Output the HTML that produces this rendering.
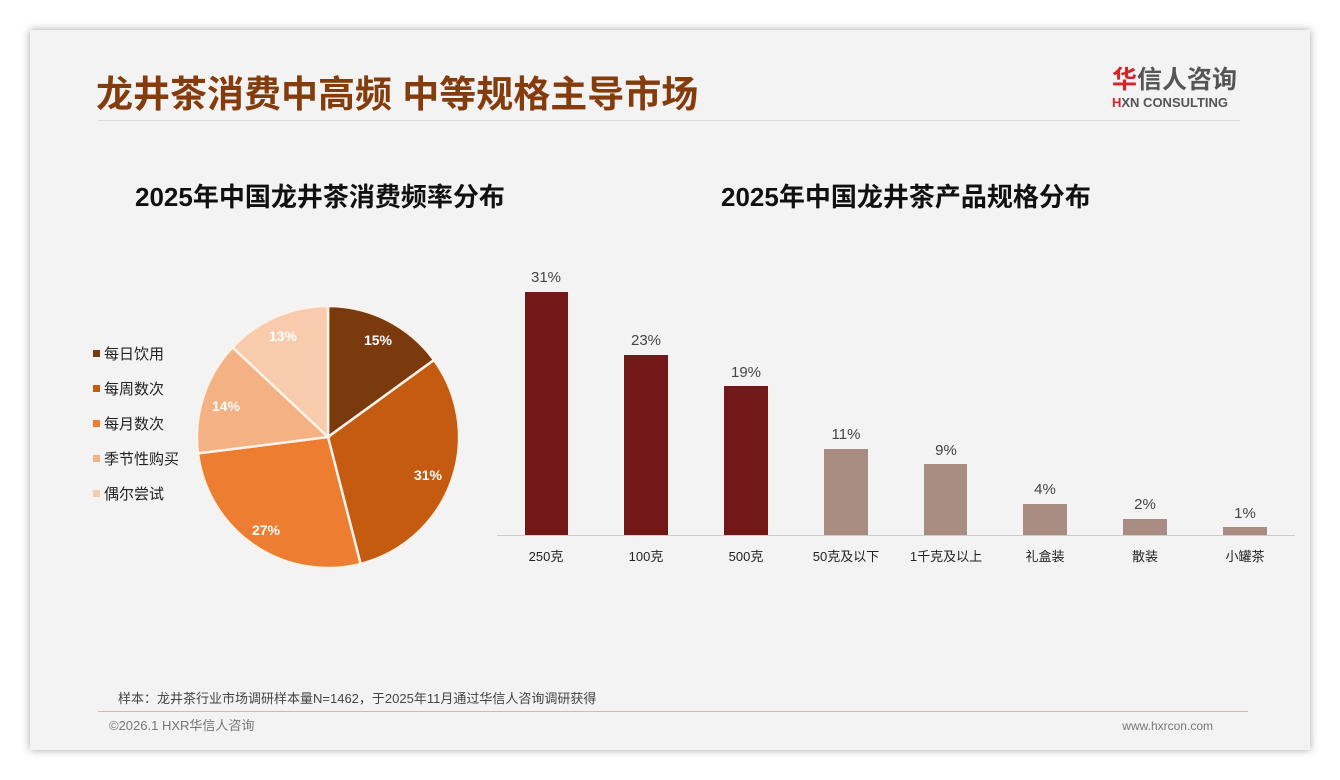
<!DOCTYPE html>
<html><head><meta charset="utf-8"><style>
body{margin:0;width:1340px;height:780px;background:#fff;overflow:hidden;font-family:"Liberation Sans","Noto Sans CJK SC",sans-serif;}
.card{position:absolute;left:30px;top:30px;width:1280px;height:720px;background:#f3f3f3;box-shadow:0 0 8px rgba(0,0,0,.35);}
</style></head><body>
<div class="card"></div>
<svg width="1340" height="780" style="position:absolute;left:0;top:0" font-family="Liberation Sans, Noto Sans CJK SC, sans-serif">
<text x="96" y="107" font-size="37" font-weight="bold" fill="#843c0c">龙井茶消费中高频 中等规格主导市场</text>
<text x="1112" y="88" font-size="25" font-weight="bold" fill="#555"><tspan fill="#d8222a">华</tspan>信人咨询</text>
<text x="1112" y="107" font-size="13" font-weight="bold" fill="#555"><tspan fill="#d8222a">H</tspan>XN CONSULTING</text>
<line x1="98" y1="120.5" x2="1240" y2="120.5" stroke="#ddd" stroke-width="1"/>
<text x="135" y="206" font-size="26" font-weight="bold" fill="#111">2025年中国龙井茶消费频率分布</text>
<text x="721" y="206" font-size="26" font-weight="bold" fill="#111">2025年中国龙井茶产品规格分布</text>
<g stroke="#fbf3ea" stroke-width="2.5">
<path d="M328,437 L328,306 A131,131 0 0 1 434,360 Z" fill="#7b3a0e"/>
<path d="M328,437 L434,360 A131,131 0 0 1 360.6,563.9 Z" fill="#c55a11"/>
<path d="M328,437 L360.6,563.9 A131,131 0 0 1 198,453.4 Z" fill="#ed7d31"/>
<path d="M328,437 L198,453.4 A131,131 0 0 1 232.5,347.3 Z" fill="#f4b183"/>
<path d="M328,437 L232.5,347.3 A131,131 0 0 1 328,306 Z" fill="#f8cbad"/>
</g>
<g font-size="14" font-weight="bold" fill="#fff" text-anchor="middle">
<text x="378" y="345">15%</text><text x="428" y="480">31%</text><text x="266" y="535">27%</text><text x="226" y="411">14%</text><text x="283" y="341">13%</text>
</g>
<g font-size="15" fill="#222">
<rect x="93" y="350" width="7" height="7" fill="#7b3a0e"/><text x="104" y="359">每日饮用</text>
<rect x="93" y="385" width="7" height="7" fill="#c55a11"/><text x="104" y="394">每周数次</text>
<rect x="93" y="420" width="7" height="7" fill="#ed7d31"/><text x="104" y="429">每月数次</text>
<rect x="93" y="455" width="7" height="7" fill="#f4b183"/><text x="104" y="464">季节性购买</text>
<rect x="93" y="490" width="7" height="7" fill="#f8cbad"/><text x="104" y="499">偶尔尝试</text>
</g>
<g>
<rect x="525" y="292" width="43" height="243" fill="#731818"/>
<rect x="624" y="355" width="44" height="180" fill="#731818"/>
<rect x="724" y="386" width="44" height="149" fill="#731818"/>
<rect x="824" y="449" width="44" height="86" fill="#a88c82"/>
<rect x="924" y="464" width="43" height="71" fill="#a88c82"/>
<rect x="1023" y="504" width="44" height="31" fill="#a88c82"/>
<rect x="1123" y="519" width="44" height="16" fill="#a88c82"/>
<rect x="1223" y="527" width="44" height="8" fill="#a88c82"/>
</g>
<line x1="497" y1="535.5" x2="1295" y2="535.5" stroke="#ccc"/>
<g font-size="15" fill="#444" text-anchor="middle">
<text x="546" y="282">31%</text><text x="646" y="345">23%</text><text x="746" y="377">19%</text><text x="846" y="439">11%</text>
<text x="946" y="455">9%</text><text x="1045" y="494">4%</text><text x="1145" y="509">2%</text><text x="1245" y="518">1%</text>
</g>
<g font-size="13" fill="#222" text-anchor="middle">
<text x="546" y="561">250克</text><text x="646" y="561">100克</text><text x="746" y="561">500克</text><text x="846" y="561">50克及以下</text>
<text x="946" y="561">1千克及以上</text><text x="1045" y="561">礼盒装</text><text x="1145" y="561">散装</text><text x="1245" y="561">小罐茶</text>
</g>
<text x="118" y="703" font-size="13" fill="#444">样本：龙井茶行业市场调研样本量N=1462，于2025年11月通过华信人咨询调研获得</text>
<line x1="98" y1="711.5" x2="1248" y2="711.5" stroke="#d8b8a8"/>
<text x="109" y="730" font-size="13" fill="#777">©2026.1 HXR华信人咨询</text>
<text x="1213" y="730" font-size="12" fill="#777" text-anchor="end">www.hxrcon.com</text>
</svg>
</body></html>
